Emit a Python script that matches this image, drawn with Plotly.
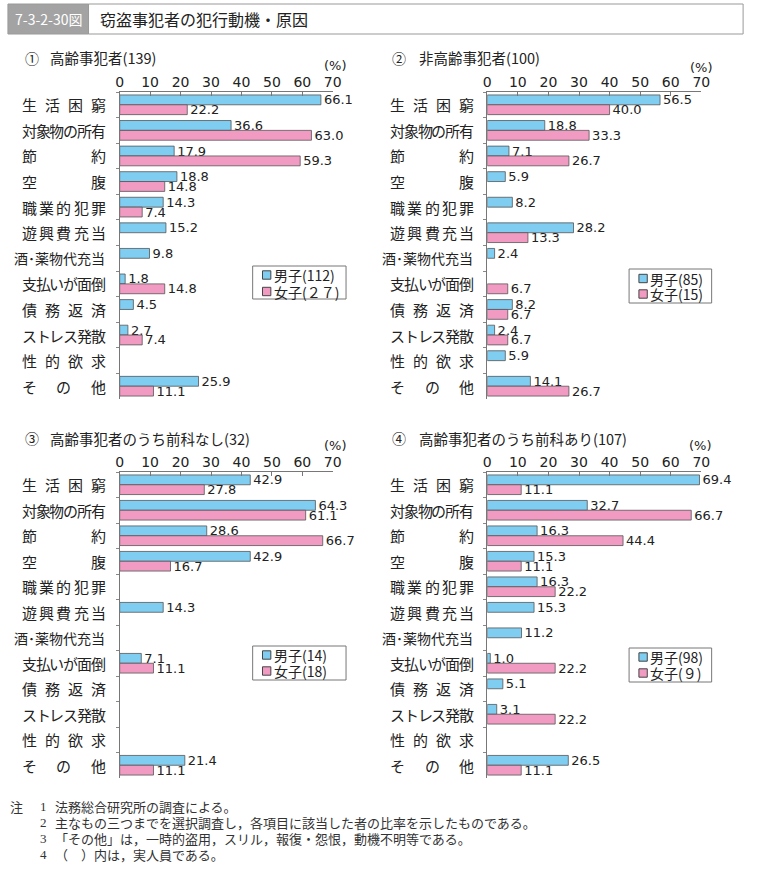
import plotly.graph_objects as go

W, H = 758, 869

categories = ["生活困窮", "対象物の所有", "節約", "空腹", "職業的犯罪", "遊興費充当",
              "酒・薬物代充当", "支払いが面倒", "債務返済", "ストレス発散", "性的欲求", "その他"]
category_labels = ["生活困窮", "対象物の所有", "節約", "空腹", "職業的犯罪", "遊興費充当",
                   "酒･薬物代充当", "支払いが面倒", "債務返済", "ストレス発散", "性的欲求", "その他"]

p1_male = [66.1, 36.6, 17.9, 18.8, 14.3, 15.2, 9.8, 1.8, 4.5, 2.7, None, 25.9]
p1_female = [22.2, 63.0, 59.3, 14.8, 7.4, None, None, 14.8, None, 7.4, None, 11.1]
p2_male = [56.5, 18.8, 7.1, 5.9, 8.2, 28.2, 2.4, None, 8.2, 2.4, 5.9, 14.1]
p2_female = [40.0, 33.3, 26.7, None, None, 13.3, None, 6.7, 6.7, 6.7, None, 26.7]
p3_male = [42.9, 64.3, 28.6, 42.9, None, 14.3, None, 7.1, None, None, None, 21.4]
p3_female = [27.8, 61.1, 66.7, 16.7, None, None, None, 11.1, None, None, None, 11.1]
p4_male = [69.4, 32.7, 16.3, 15.3, 16.3, 15.3, 11.2, 1.0, 5.1, 3.1, None, 26.5]
p4_female = [11.1, 66.7, 44.4, 11.1, 22.2, None, None, 22.2, None, 22.2, None, 11.1]

panel_titles = ["高齢事犯者(139)", "非高齢事犯者(100)", "高齢事犯者のうち前科なし(32)", "高齢事犯者のうち前科あり(107)"]
panel_marks = ["①", "②", "③", "④"]
male_names = ["男子(112)", "男子(85)", "男子(14)", "男子(98)"]
female_names = ["女子(２７)", "女子(15)", "女子(18)", "女子(９)"]
x_ticks = [0, 10, 20, 30, 40, 50, 60, 70]

title_code = "7-3-2-30図"
title_text = "窃盗事犯者の犯行動機・原因"
notes = [("注", "1", "法務総合研究所の調査による。"),
         ("", "2", "主なもの三つまでを選択調査し，各項目に該当した者の比率を示したものである。"),
         ("", "3", "「その他」は，一時的盗用，スリル，報復・怨恨，動機不明等である。"),
         ("", "4", "（　）内は，実人員である。")]

BLUE = "#7FCDF0"
PINK = "#F29BC2"
JP = "Noto Sans CJK JP"
NUM = "DejaVu Sans"
TXT = "#222222"


def px(x):
    return x / W


def py(y):
    return 1 - y / H


panels = [
    dict(male=p1_male, female=p1_female, x0=117.7, x1=334.5, y0=92, y1=399, lab=(18, 104), tx=(19, 45), ty=58,
         pct=(337, 66), box=(253, 348, 266, 299), rows=(275, 291.5)),
    dict(male=p2_male, female=p2_female, x0=491.7, x1=709.5, y0=92, y1=399, lab=(393, 478), tx=(393, 420), ty=58,
         pct=(710, 67), box=(636, 720, 269, 303), rows=(278.5, 294)),
    dict(male=p3_male, female=p3_female, x0=117.7, x1=334.5, y0=472, y1=778, lab=(18, 104), tx=(19, 45), ty=438,
         pct=(337, 445), box=(253, 348, 646, 680), rows=(655, 671)),
    dict(male=p4_male, female=p4_female, x0=491.7, x1=709.5, y0=472, y1=778, lab=(393, 478), tx=(393, 420), ty=438,
         pct=(709, 445), box=(636, 720, 648, 682), rows=(657, 673)),
]

fig = go.Figure()
annotations = []
shapes = []
layout = {}

for i, p in enumerate(panels):
    k = "" if i == 0 else str(i + 1)
    xa, ya = "x" + k, "y" + k
    for vals, name, col in ((p["male"], male_names[i], BLUE), (p["female"], female_names[i], PINK)):
        fig.add_trace(go.Bar(
            x=vals, y=categories, orientation="h", name=name, showlegend=False,
            marker=dict(color=col, line=dict(color="#555555", width=0.8)),
            texttemplate="%{x:.1f}", textposition="outside", constraintext="none",
            textfont=dict(family=NUM, size=13, color=TXT), cliponaxis=False,
            xaxis=xa, yaxis=ya, hoverinfo="skip"))
    layout["xaxis" + k] = dict(
        domain=[px(p["x0"]), px(p["x1"])], anchor=ya, side="top", range=[0, 70],
        tickvals=x_ticks, ticks="inside", ticklen=4, tickcolor="#777777",
        ticklabelstandoff=-2,
        showline=True, linecolor="#777777", linewidth=1, showgrid=False, zeroline=False,
        tickfont=dict(family=NUM, size=14, color=TXT), fixedrange=True)
    layout["yaxis" + k] = dict(
        domain=[py(p["y1"]), py(p["y0"])], anchor=xa, type="category",
        categoryorder="array", categoryarray=categories, autorange="reversed",
        showticklabels=False, ticks="outside", tickson="boundaries", ticklen=3,
        tickcolor="#888888", showline=True, linecolor="#777777", linewidth=1,
        showgrid=False, zeroline=False, fixedrange=True)

    # category labels, justified between bounds
    L, R = p["lab"]
    for c, lab in zip(categories, category_labels):
        if "･" in lab:
            annotations.append(dict(text=lab, x=px(R + 1), y=c, xref="paper", yref=ya,
                                    xanchor="right", yanchor="middle", showarrow=False,
                                    font=dict(family=JP, size=14, color=TXT)))
            continue
        n = len(lab)
        w = 15
        sp = (R - L - w) / (n - 1)
        for j, ch in enumerate(lab):
            cx = L + w / 2 + j * sp
            annotations.append(dict(text=ch, x=px(cx), y=c, xref="paper", yref=ya,
                                    xanchor="center", yanchor="middle", showarrow=False,
                                    font=dict(family=JP, size=15, color=TXT)))
    # panel title
    annotations.append(dict(text=panel_marks[i], x=px(p["tx"][0]), y=py(p["ty"]), xref="paper", yref="paper",
                            xanchor="left", yanchor="middle", showarrow=False,
                            font=dict(family=JP, size=14, color=TXT)))
    annotations.append(dict(text=panel_titles[i], x=px(p["tx"][1]), y=py(p["ty"]), xref="paper", yref="paper",
                            xanchor="left", yanchor="middle", showarrow=False,
                            font=dict(family=JP, size=14.5, color=TXT)))
    annotations.append(dict(text="(%)", x=px(p["pct"][0]), y=py(p["pct"][1]), xref="paper", yref="paper",
                            xanchor="center", yanchor="middle", showarrow=False,
                            font=dict(family=NUM, size=13, color=TXT)))

    # legend (box, swatches, labels)
    bx0, bx1, by0, by1 = p["box"]
    shapes.append(dict(type="rect", xref="paper", yref="paper", x0=px(bx0), x1=px(bx1),
                       y0=py(by1), y1=py(by0), line=dict(color="#777777", width=1), fillcolor="white"))
    for ry, name, col in zip(p["rows"], (male_names[i], female_names[i]), (BLUE, PINK)):
        shapes.append(dict(type="rect", xref="paper", yref="paper", x0=px(bx0 + 10), x1=px(bx0 + 18.5),
                           y0=py(ry + 4.2), y1=py(ry - 4.2), line=dict(color="#444444", width=1), fillcolor=col))
        annotations.append(dict(text=name, x=px(bx0 + 19.5), y=py(ry), xref="paper", yref="paper",
                                xanchor="left", yanchor="middle", showarrow=False,
                                font=dict(family=JP, size=14, color=TXT)))

# title bar
shapes += [
    dict(type="rect", xref="paper", yref="paper", x0=px(86), x1=px(752), y0=py(34), y1=py(4),
         line=dict(color="#999999", width=1), fillcolor="white", layer="below"),
    dict(type="rect", xref="paper", yref="paper", x0=px(4), x1=px(86), y0=py(34), y1=py(4),
         line=dict(color="#9a9a9a", width=1), fillcolor="#a3a3a3", layer="below"),
]
annotations.append(dict(text=title_code, x=px(45), y=py(19), xref="paper", yref="paper",
                        xanchor="center", yanchor="middle", showarrow=False,
                        font=dict(family=JP, size=14, color="white")))
annotations.append(dict(text=title_text, x=px(96), y=py(19), xref="paper", yref="paper",
                        xanchor="left", yanchor="middle", showarrow=False,
                        font=dict(family=JP, size=16, color=TXT)))

# notes
for j, (a, b, t) in enumerate(notes):
    yy = py(806 + j * 16.3)
    if a:
        annotations.append(dict(text=a, x=px(4), y=yy, xref="paper", yref="paper", xanchor="left",
                                yanchor="middle", showarrow=False, font=dict(family=JP, size=13, color="#333333")))
    annotations.append(dict(text=b, x=px(35), y=yy, xref="paper", yref="paper", xanchor="left",
                            yanchor="middle", showarrow=False, font=dict(family="Liberation Serif", size=13, color="#333333")))
    annotations.append(dict(text=t, x=px(50), y=yy, xref="paper", yref="paper", xanchor="left",
                            yanchor="middle", showarrow=False, font=dict(family=JP, size=13, color="#333333")))

fig.update_layout(
    width=W, height=H, margin=dict(l=0, r=0, t=0, b=0),
    paper_bgcolor="white", plot_bgcolor="white",
    barmode="group", bargap=0.23, bargroupgap=0,
    annotations=annotations, shapes=shapes, showlegend=False,
    **layout)

fig.write_html("out.html", config={"displayModeBar": False},
               post_script="document.body.style.margin='0';document.body.style.padding='0';")
